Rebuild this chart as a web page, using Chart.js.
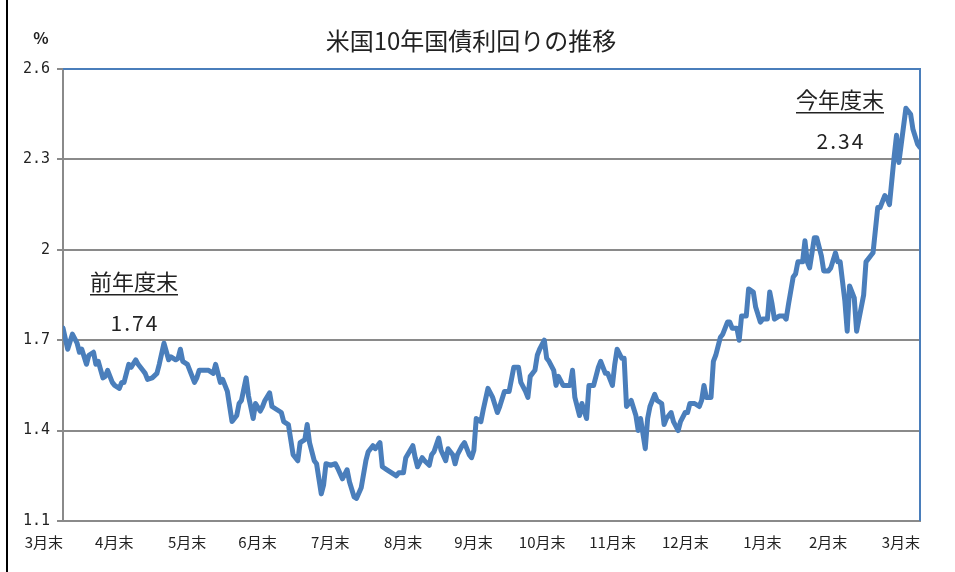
<!DOCTYPE html>
<html><head><meta charset="utf-8">
<script src="https://cdn.jsdelivr.net/npm/chart.js@4.4.0/dist/chart.umd.min.js"></script>
<style>html,body{margin:0;padding:0;background:#fff;}#wrap{position:relative;width:955px;height:572px;}</style>
</head><body><div id="wrap"><canvas id="c" width="955" height="572"></canvas></div>
<script>
const chartTitle = '米国10年国債利回りの推移';
const unitLabel = '%';
const monthLabels = ['3月末','4月末','5月末','6月末','7月末','8月末','9月末','10月末','11月末','12月末','1月末','2月末','3月末'];
const monthEndDays = [0,30,61,91,122,153,183,214,244,275,306,334,365];
const yTicks = [1.1,1.4,1.7,2.0,2.3,2.6];
const startNote = ['前年度末','1.74'];
const endNote = ['今年度末','2.34'];
// days since 2016-03-31
const days = [
0,2,4,6,7,8,10,11,13,14,15,17,18,19,21,22,24,25,26,28,29,31,32,34,35,36,38,40,41,43,
45,46,48,49,50,51,53,54,56,57,58,60,62,64,65,67,68,70,71,72,74,75,76,78,79,81,82,84,85,86,
88,89,91,93,94,96,97,98,100,101,103,104,105,107,108,110,111,112,114,116,117,119,121,122,124,125,127,129,130,132,
133,135,136,138,140,142,143,145,146,149,150,151,153,154,156,157,158,160,161,163,164,166,167,168,170,171,173,174,175,176,
178,179,181,183,185,186,188,190,192,194,195,197,198,199,201,202,203,205,206,207,209,210,211,213,215,216,217,218,220,221,
223,224,226,228,229,231,232,234,235,236,238,239,240,242,244,245,246,248,249,250,252,253,255,256,257,259,260,262,263,265,
266,267,269,271,272,273,274,276,277,278,280,281,283,284,285,287,288,289,291,292,294,295,297,298,300,301,302,303,305,307,
308,309,311,312,313,315,316,317,318,319,320,321,323,324,326,327,329,330,331,333,334,335,337,338,339,341,342,344,345,347,
348,350,351,352,354,355,356,357,359,361,362,364,365
];
const yields = [
1.74,1.67,1.72,1.69,1.66,1.67,1.62,1.65,1.66,1.62,1.63,1.575,1.58,1.60,1.56,1.55,1.54,1.56,1.56,1.62,1.61,1.635,1.62,1.60,1.59,1.57,1.575,1.59,1.62,1.69,
1.635,1.645,1.635,1.64,1.67,1.63,1.62,1.60,1.56,1.575,1.60,1.60,1.60,1.59,1.62,1.56,1.57,1.53,1.48,1.43,1.45,1.49,1.50,1.575,1.515,1.44,1.49,1.465,1.48,1.50,
1.525,1.48,1.47,1.46,1.43,1.42,1.37,1.32,1.30,1.36,1.37,1.42,1.36,1.30,1.29,1.19,1.22,1.29,1.285,1.29,1.275,1.24,1.27,1.23,1.18,1.175,1.21,1.30,1.33,1.35,
1.34,1.36,1.28,1.27,1.26,1.25,1.26,1.26,1.31,1.35,1.31,1.28,1.31,1.30,1.285,1.32,1.33,1.375,1.335,1.30,1.34,1.32,1.29,1.32,1.35,1.36,1.32,1.31,1.335,1.44,
1.43,1.47,1.54,1.51,1.46,1.48,1.53,1.53,1.61,1.61,1.56,1.53,1.51,1.58,1.60,1.65,1.67,1.70,1.64,1.63,1.60,1.55,1.58,1.55,1.55,1.55,1.60,1.51,1.45,1.49,
1.44,1.55,1.55,1.61,1.63,1.59,1.59,1.55,1.62,1.67,1.64,1.64,1.48,1.50,1.45,1.40,1.44,1.34,1.44,1.48,1.52,1.50,1.49,1.42,1.44,1.46,1.43,1.40,1.43,1.46,
1.46,1.49,1.49,1.48,1.50,1.55,1.51,1.51,1.63,1.65,1.71,1.72,1.76,1.76,1.74,1.74,1.70,1.78,1.78,1.87,1.86,1.81,1.76,1.77,1.77,1.86,1.82,1.77,1.78,1.78,
1.77,1.82,1.91,1.92,1.96,1.96,2.03,1.96,1.94,1.99,2.04,2.04,1.98,1.93,1.93,1.94,1.99,1.96,1.96,1.83,1.73,1.88,1.84,1.73,1.77,1.85,1.96,1.98,1.99,2.14,
2.14,2.18,2.17,2.15,2.31,2.38,2.29,2.35,2.47,2.45,2.40,2.35,2.34
];

const CJK = '"Noto Sans CJK JP", "Noto Sans", sans-serif';
const textColor = '#222';
const gridGray = '#8a8a8a';
const lineBlue = '#4a7ebb';

const decor = {
  id: 'decor',
  beforeDatasetsDraw(chart) {
    const {ctx, chartArea: a} = chart;
    ctx.save();
    ctx.strokeStyle = lineBlue;
    ctx.lineWidth = 2;
    ctx.beginPath();
    ctx.moveTo(a.left, a.top);
    ctx.lineTo(a.right, a.top);
    ctx.lineTo(a.right, a.bottom);
    ctx.stroke();
    ctx.restore();
  },
  afterDraw(chart) {
    const {ctx, chartArea: a} = chart;
    ctx.save();
    ctx.strokeStyle = '#000';
    ctx.lineWidth = 2;
    ctx.beginPath();
    ctx.moveTo(7, 0); ctx.lineTo(7, 572);
    ctx.stroke();
    ctx.fillStyle = textColor;
    ctx.textBaseline = 'middle';
    ctx.textAlign = 'center';
    ctx.font = '24px ' + CJK;
    ctx.fillText(chartTitle, 471, 41);
    ctx.font = 'bold 16px ' + CJK;
    ctx.fillText(unitLabel, 41, 38);
    const note = (lines, cx, cy) => {
      ctx.font = '22px ' + CJK;
      ctx.letterSpacing = '0px';
      ctx.textAlign = 'center';
      ctx.fillText(lines[0], cx, cy);
      const w = ctx.measureText(lines[0]).width;
      ctx.fillRect(cx - w / 2, cy + 12, w, 1.5);
      ctx.font = '21px ' + CJK;
      ctx.letterSpacing = '2px';
      ctx.fillText(lines[1], cx + 1, cy + 41);
      ctx.letterSpacing = '0px';
    };
    note(startNote, a.left + 71, 282);
    note(endNote, a.left + 777, 100);
    ctx.restore();
  }
};

new Chart(document.getElementById('c'), {
  type: 'line',
  data: {
    datasets: [{
      data: days.map((d, i) => ({x: d, y: yields[i]})),
      borderColor: lineBlue,
      borderWidth: 5,
      borderJoinStyle: 'round',
      borderCapStyle: 'round',
      pointRadius: 0,
      tension: 0,
      fill: false
    }]
  },
  options: {
    responsive: false,
    animation: false,
    devicePixelRatio: 1,
    layout: {padding: {left: 0, top: 69, right: 35, bottom: 0}},
    plugins: {legend: {display: false}, tooltip: {enabled: false}, title: {display: false}},
    scales: {
      x: {
        type: 'linear',
        min: 0, max: 365,
        afterBuildTicks: s => { s.ticks = monthEndDays.map(v => ({value: v})); },
        afterFit: s => { s.height = 51; },
        grid: {display: false, drawTicks: false},
        border: {display: true, color: gridGray, width: 2},
        ticks: {
          autoSkip: false, maxRotation: 0, minRotation: 0, align: 'end', padding: 12,
          color: textColor, font: {family: CJK, size: 15},
          callback: (v, i) => monthLabels[i]
        }
      },
      y: {
        min: 1.1, max: 2.6,
        afterBuildTicks: s => { s.ticks = yTicks.map(v => ({value: v})); },
        afterFit: s => { s.width = 63; },
        grid: {
          color: c => (c.tick && Math.abs(c.tick.value - 2.6) < 1e-9) ? 'rgba(0,0,0,0)' : gridGray,
          lineWidth: 2, tickLength: 6, tickColor: gridGray, tickWidth: 2, drawTicks: true
        },
        border: {display: true, color: gridGray, width: 2},
        ticks: {
          padding: 7, color: textColor,
          font: {family: '"DejaVu Sans Mono", monospace', size: 15},
          callback: v => String(v)
        }
      }
    }
  },
  plugins: [decor]
});
</script></body></html>
